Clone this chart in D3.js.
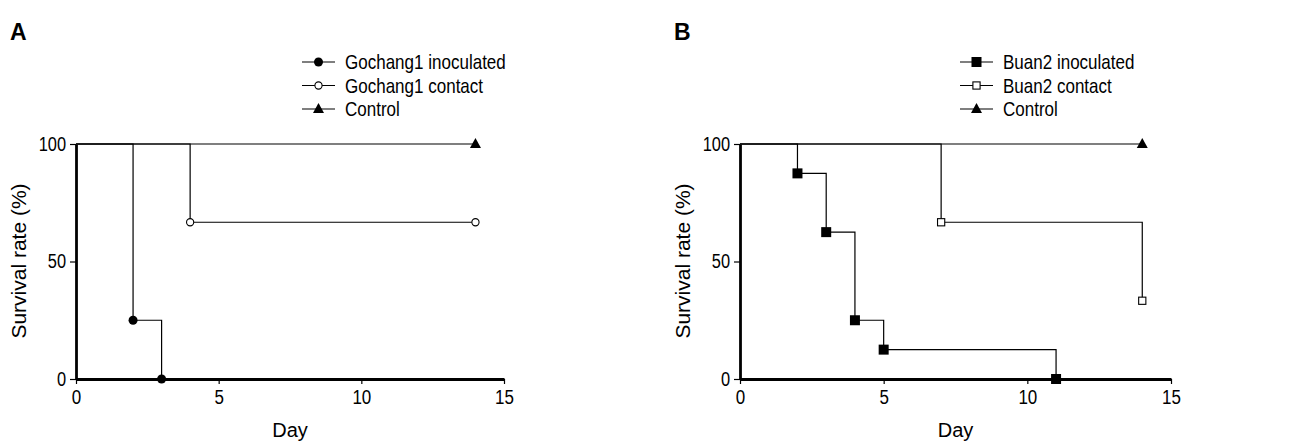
<html>
<head>
<style>
  body { margin: 0; background: white; }
  text { font-family: "Liberation Sans", Arial, sans-serif; fill: #000; }
  .axis path, .axis line { stroke: #000; }
  .axis text { font-size: 20px; font-family: "Liberation Sans", Arial, sans-serif; }
  .leg { font-size: 21px; }
</style>
</head>
<body>
<svg width="1307" height="441"></svg>
<script src="https://d3js.org/d3.v7.min.js"></script>
<script>
// panel A - Gochang1
var gochangInocDays = [0, 2, 2, 3, 3];
var gochangInocSurv = [100, 100, 25, 25, 0];
var gochangContDays = [0, 4, 4, 14];
var gochangContSurv = [100, 100, 66.7, 66.7];
// panel B - Buan2
var buanInocDays = [0, 2, 2, 3, 3, 4, 4, 5, 5, 11, 11];
var buanInocSurv = [100, 100, 87.5, 87.5, 62.5, 62.5, 25, 25, 12.5, 12.5, 0];
var buanContDays = [0, 7, 7, 14, 14];
var buanContSurv = [100, 100, 66.7, 66.7, 33.3];
// control (both panels)
var controlDays = [0, 14];
var controlSurv = [100, 100];

// which points get a marker (index into the arrays above)
var gochangInocMarks = [2, 4];
var gochangContMarks = [2, 3];
var buanInocMarks = [2, 4, 6, 8, 10];
var buanContMarks = [2, 4];
var controlMarks = [1];

var xTicks = [0, 5, 10, 15];
var yTicks = [0, 50, 100];

var svg = d3.select("svg");

function zip(days, surv) {
  return days.map(function(d, i) { return { day: d, s: surv[i] }; });
}

// the figure uses a narrow sans, squeeze the regular one to match
function condense(sel, k) {
  sel.each(function() {
    var w = this.getComputedTextLength();
    d3.select(this).attr("textLength", w * k).attr("lengthAdjust", "spacingAndGlyphs");
  });
}

function marker(g, type, x, y) {
  if (type == "fcircle") {
    g.append("circle").attr("cx", x).attr("cy", y).attr("r", 4.5).attr("fill", "#000");
  } else if (type == "ocircle") {
    g.append("circle").attr("cx", x).attr("cy", y).attr("r", 3.6)
      .attr("fill", "white").attr("stroke", "#000").attr("stroke-width", 1.1);
  } else if (type == "fsquare") {
    g.append("rect").attr("x", x - 5).attr("y", y - 5).attr("width", 10).attr("height", 10).attr("fill", "#000");
  } else if (type == "osquare") {
    g.append("rect").attr("x", x - 3.6).attr("y", y - 3.6).attr("width", 7.2).attr("height", 7.2)
      .attr("fill", "white").attr("stroke", "#000").attr("stroke-width", 1.1);
  } else if (type == "triangle") {
    g.append("path").attr("d", "M" + x + "," + (y - 6) + "L" + (x + 5.5) + "," + (y + 4) + "L" + (x - 5.5) + "," + (y + 4) + "Z")
      .attr("fill", "#000");
  }
}

function panel(opt) {
  var g = svg.append("g");
  var x = d3.scaleLinear().domain([0, 15]).range([opt.left, opt.right]);
  var y = d3.scaleLinear().domain([0, 100]).range([379, 144]);

  var line = d3.line().x(function(d) { return x(d.day); }).y(function(d) { return y(d.s); });

  // series lines
  opt.series.forEach(function(s) {
    g.append("path").datum(zip(s.days, s.surv))
      .attr("d", line).attr("fill", "none").attr("stroke", "#000").attr("stroke-width", 1.2);
  });

  // axes
  var xa = g.append("g").attr("class", "axis").attr("transform", "translate(0,379)")
    .call(d3.axisBottom(x).tickValues(xTicks).tickSize(5).tickPadding(6).tickSizeOuter(0));
  xa.select(".domain").attr("stroke-width", 2.8);
  xa.selectAll(".tick line").attr("stroke-width", 1.2);
  condense(xa.selectAll(".tick text"), 0.85);
  var ya = g.append("g").attr("class", "axis").attr("transform", "translate(" + opt.left + ",0)")
    .call(d3.axisLeft(y).tickValues(yTicks).tickSize(6).tickPadding(4).tickSizeOuter(0));
  ya.select(".domain").attr("stroke-width", 2.8);
  ya.selectAll(".tick line").attr("stroke-width", 1.2);
  condense(ya.selectAll(".tick text"), 0.82);

  // markers on top
  opt.series.forEach(function(s) {
    s.marks.forEach(function(i) {
      marker(g, s.type, x(s.days[i]), y(s.surv[i]));
    });
  });

  // titles
  g.append("text").attr("x", (opt.left + opt.right) / 2).attr("y", 437)
    .attr("text-anchor", "middle").style("font-size", "20px").text("Day");
  g.append("text").attr("transform", "translate(" + (opt.left - 50) + ",261) rotate(-90)")
    .attr("text-anchor", "middle").style("font-size", "21px").text("Survival rate (%)");
  g.append("text").attr("x", opt.left - 66).attr("y", 40)
    .style("font-size", "23px").style("font-weight", "bold").text(opt.label);

  // legend
  opt.series.forEach(function(s, i) {
    var ly = 62 + i * 23.5;
    g.append("line").attr("x1", opt.legX).attr("x2", opt.legX + 33)
      .attr("y1", ly).attr("y2", ly).attr("stroke", "#000").attr("stroke-width", 1.2);
    marker(g, s.type, opt.legX + 16.5, ly);
    var t = g.append("text").attr("class", "leg").attr("x", opt.legX + 43).attr("y", ly + 7)
      .text(s.name);
    condense(t, 0.81);
  });
}

panel({
  label: "A", left: 76, right: 504, legX: 302,
  series: [
    { name: "Gochang1 inoculated", days: gochangInocDays, surv: gochangInocSurv, marks: gochangInocMarks, type: "fcircle" },
    { name: "Gochang1 contact", days: gochangContDays, surv: gochangContSurv, marks: gochangContMarks, type: "ocircle" },
    { name: "Control", days: controlDays, surv: controlSurv, marks: controlMarks, type: "triangle" }
  ]
});

panel({
  label: "B", left: 740, right: 1171, legX: 960,
  series: [
    { name: "Buan2 inoculated", days: buanInocDays, surv: buanInocSurv, marks: buanInocMarks, type: "fsquare" },
    { name: "Buan2 contact", days: buanContDays, surv: buanContSurv, marks: buanContMarks, type: "osquare" },
    { name: "Control", days: controlDays, surv: controlSurv, marks: controlMarks, type: "triangle" }
  ]
});
</script>
</body>
</html>
